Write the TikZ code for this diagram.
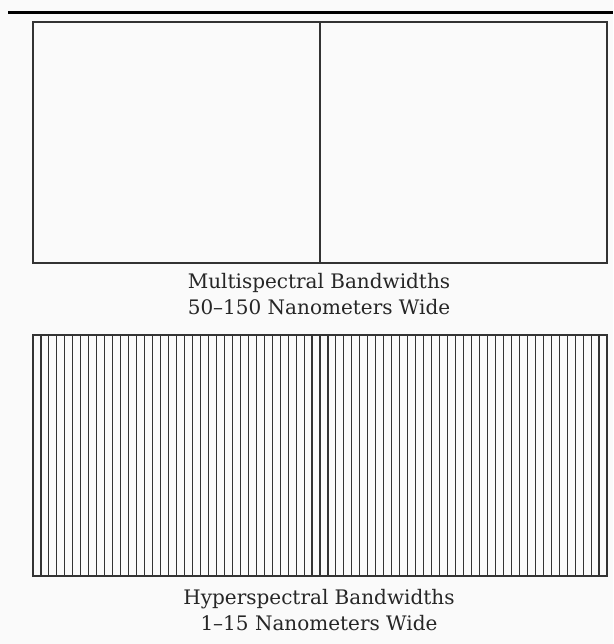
\documentclass[tikz,border=0pt]{standalone}
\usepackage{fontspec}
\setmainfont{DejaVu Serif}
\usepackage{tikz}
\usetikzlibrary{calc}

\begin{document}
\begin{tikzpicture}[x=1pt,y=-1pt,
    band/.style={line width=1.1pt,draw=black!80},
    caption/.style={align=center,font=\fontsize{20}{26}\selectfont,text=black!85,inner sep=0pt}]
            \fill[black!2] (0,0) rectangle (613,644);
            \useasboundingbox (0,0) rectangle (613,644);

            \coordinate (rl) at (8,13);
            \coordinate (rr) at (613,13);
            \draw[line width=3pt] (rl)--(rr);

            % multispectral
            \coordinate (m1) at (33,22);
            \coordinate (m2) at (607,263);
            \coordinate (mt) at (320,22);
            \coordinate (mb) at (320,263);
            \draw[band] (m1) rectangle (m2);
            \draw[band] (mt)--(mb);
            \node[caption] (mcap) at (319,294) {Multispectral Bandwidths\\50--150 Nanometers Wide};

            % hyperspectral
            \coordinate (h1) at (33,335);
            \coordinate (h2) at (607,576);
            \draw[band] (h1) rectangle (h2);
            \foreach \i in {1,...,71}{
                \draw[band] ($(h1)+(\i*7.972,0)$)--($(h1)+(\i*7.972,241)$);
            }
            \node[caption] (hcap) at (319,610) {Hyperspectral Bandwidths\\1--15 Nanometers Wide};
        \end{tikzpicture}
\end{document}
